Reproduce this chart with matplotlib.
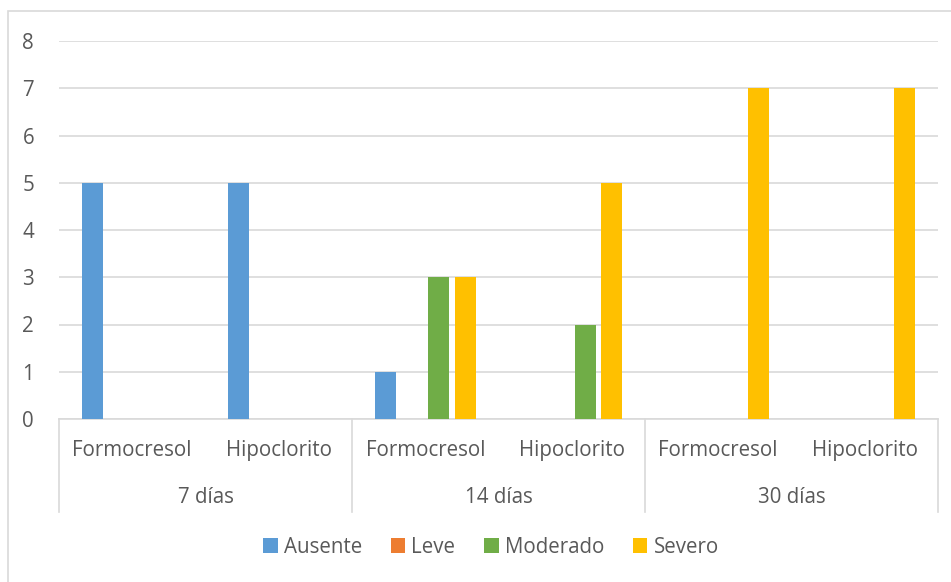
import matplotlib.pyplot as plt
import numpy as np
from matplotlib.patches import Rectangle

plt.rcParams['font.family'] = ['Open Sans', 'DejaVu Sans']

# data
tratamientos = ['Formocresol', 'Hipoclorito', 'Formocresol', 'Hipoclorito', 'Formocresol', 'Hipoclorito']
periodos = ['7 días', '14 días', '30 días']
series = ['Ausente', 'Leve', 'Moderado', 'Severo']
ausente = [5, 5, 1, 0, 0, 0]
leve = [0, 0, 0, 0, 0, 0]
moderado = [0, 0, 3, 2, 0, 0]
severo = [0, 0, 3, 5, 7, 7]
colores = ['#5b9bd5', '#ed7d31', '#70ad47', '#ffc000']

txt = '#595959'
grid = '#d9d9d9'
fs = 14.8

fig = plt.figure(figsize=(9.51, 5.82), dpi=100)
ax = fig.add_axes([59 / 951, 163 / 582, 879 / 951, 378 / 582])

x = np.arange(len(tratamientos))
w = 0.143
paso = 0.182
valores = [ausente, leve, moderado, severo]
for i, (nombre, vals, c) in enumerate(zip(series, valores, colores)):
    ax.bar(x + (i - 1.5) * paso, vals, width=w, color=c, label=nombre, zorder=3)

ax.set_xlim(-0.5, len(tratamientos) - 0.5)
ax.set_ylim(0, 8)
ax.set_yticks(range(0, 9))
ax.yaxis.grid(True, color=grid, linewidth=1.2, zorder=0)
ax.tick_params(axis='y', length=0, pad=18, labelsize=fs, labelcolor=txt)
ax.set_xticks([])
for s in ['top', 'right', 'left']:
    ax.spines[s].set_visible(False)
ax.spines['bottom'].set_color(grid)
ax.spines['bottom'].set_linewidth(1.2)

# category labels (two levels)
tr = ax.get_xaxis_transform()
for xi, t in zip(x, tratamientos):
    ax.text(xi, -0.083, t, transform=tr, ha='center', va='center', fontsize=fs, color=txt)
for j, p in enumerate(periodos):
    ax.text(2 * j + 0.5, -0.207, p, transform=tr, ha='center', va='center', fontsize=fs, color=txt)
for xs in [-0.5, 1.5, 3.5, 5.5]:
    ax.plot([xs, xs], [0, -0.246], transform=tr, color=grid, linewidth=1.2, clip_on=False)

fig.legend(loc='center', bbox_to_anchor=(491 / 951, 0.06), ncol=4, frameon=False,
           fontsize=fs, labelcolor=txt, handlelength=0.7, handleheight=0.7,
           handletextpad=0.3, columnspacing=1.4)

fig.patches.append(Rectangle((8 / 951, -0.1), 1.1, 1.1 - 11 / 582, transform=fig.transFigure,
                             fill=False, edgecolor=grid, linewidth=1.2))

fig.savefig('out.png', dpi=100)
